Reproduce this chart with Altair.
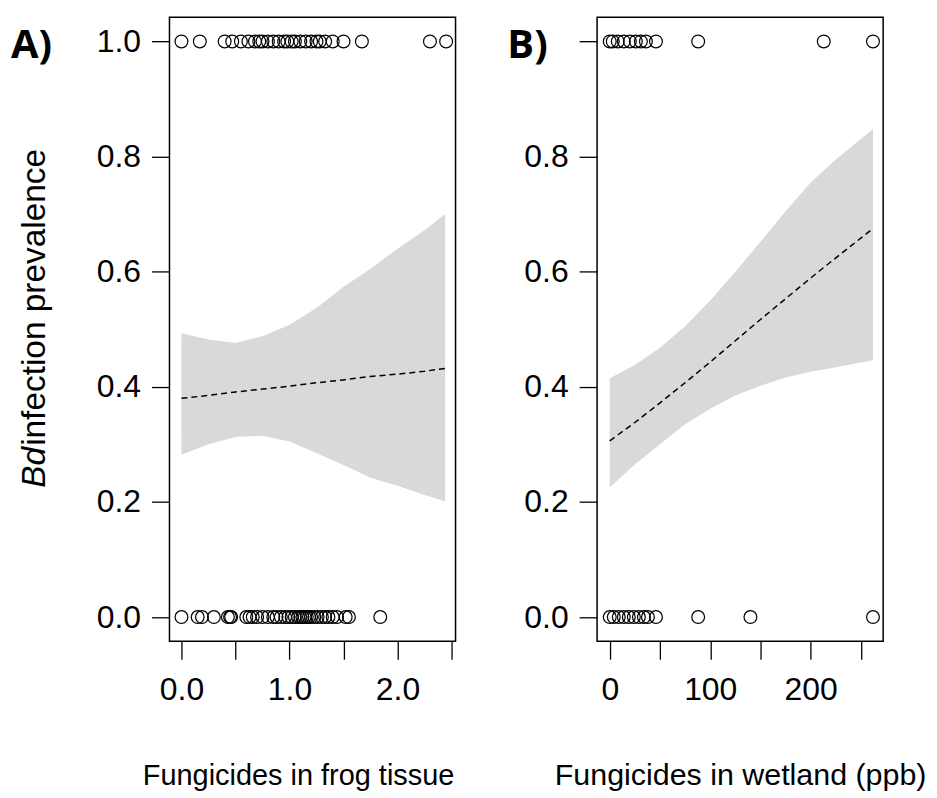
import altair as alt
import pandas as pd

# ---------------- data ----------------
# Panel A: fungicides in frog tissue, infected (1) / uninfected (0)
a_top = [0.0, 0.17, 0.40, 0.47, 0.55, 0.62, 0.68, 0.72, 0.75, 0.80, 0.85, 0.90,
         0.95, 0.98, 1.02, 1.05, 1.10, 1.15, 1.20, 1.25, 1.28, 1.33, 1.40, 1.50,
         1.67, 2.30, 2.45]
a_bottom = [0.0, 0.15, 0.19, 0.30, 0.43, 0.45, 0.46, 0.60, 0.63, 0.66, 0.70, 0.75,
            0.80, 0.85, 0.88, 0.92, 0.96, 0.99, 1.02, 1.05, 1.08, 1.10, 1.12, 1.14,
            1.16, 1.18, 1.20, 1.23, 1.26, 1.30, 1.33, 1.36, 1.40, 1.44, 1.52, 1.55,
            1.84]
a_fit_x = [0.0, 0.25, 0.5, 0.75, 1.0, 1.25, 1.5, 1.75, 2.0, 2.25, 2.44]
a_fit = [0.380, 0.385, 0.391, 0.396, 0.401, 0.407, 0.412, 0.418, 0.422, 0.427, 0.432]
a_upper = [0.493, 0.482, 0.476, 0.488, 0.508, 0.537, 0.574, 0.605, 0.640, 0.672, 0.700]
a_lower = [0.282, 0.300, 0.313, 0.315, 0.305, 0.285, 0.264, 0.242, 0.228, 0.212, 0.201]

# Panel B: fungicides in wetland (ppb)
b_top = [0, 3, 8, 14, 20, 26, 31, 36, 46, 88, 213, 262]
b_bottom = [0, 4, 9, 14, 19, 24, 29, 34, 38, 46, 88, 140, 262]
b_fit_x = [0, 25, 50, 75, 100, 125, 150, 175, 200, 225, 262]
b_fit = [0.306, 0.338, 0.372, 0.407, 0.443, 0.480, 0.517, 0.553, 0.589, 0.624, 0.675]
b_upper = [0.415, 0.438, 0.468, 0.505, 0.550, 0.600, 0.652, 0.705, 0.755, 0.795, 0.848]
b_lower = [0.225, 0.265, 0.300, 0.335, 0.362, 0.385, 0.402, 0.416, 0.426, 0.434, 0.446]

y_ticks = [0.0, 0.2, 0.4, 0.6, 0.8, 1.0]
a_ticks = [0.0, 0.5, 1.0, 1.5, 2.0, 2.5]
b_ticks = [0, 50, 100, 150, 200, 250]

FONT = "Liberation Sans"
W, H = 287, 626


def panel(top, bottom, fx, fit, up, lo, xdomain, xticks, label_expr, y_label_expr,
          xtitle, title_x, title_size, letter, letter_x, with_ytitle):
    pts = pd.DataFrame({"x": list(top) + list(bottom),
                        "y": [1.0] * len(top) + [0.0] * len(bottom)})
    fitdf = pd.DataFrame({"x": fx, "fit": fit, "hi": up, "lo": lo})

    xenc = alt.X("x:Q",
                 scale=alt.Scale(domain=xdomain, nice=False, zero=False),
                 axis=alt.Axis(values=xticks, labelExpr=label_expr, title=xtitle,
                               titleX=title_x, titleY=144, titleAlign="center",
                               titleBaseline="alphabetic", titleFont=FONT,
                               titleFontSize=title_size, titleFontWeight="normal",
                               titleColor="black", labelPadding=15))
    yscale = alt.Scale(domain=[-0.042, 1.042], nice=False, zero=False)
    yaxis = alt.Axis(values=y_ticks, labelExpr=y_label_expr, title=None,
                     labelPadding=11)

    band = alt.Chart(fitdf).mark_area(color="#d9d9d9", opacity=1).encode(
        x=xenc, y=alt.Y("lo:Q", scale=yscale, axis=yaxis), y2="hi:Q")
    line = alt.Chart(fitdf).mark_line(color="black", strokeDash=[6, 4],
                                      strokeWidth=1.5).encode(
        x=xenc, y=alt.Y("fit:Q", scale=yscale, axis=yaxis))
    points = alt.Chart(pts).mark_point(shape="circle", filled=False, color="black",
                                       size=165, strokeWidth=1.2, opacity=1).encode(
        x=xenc, y=alt.Y("y:Q", scale=yscale, axis=yaxis))
    lab = alt.Chart(pd.DataFrame({"t": [letter]})).mark_text(
        font="Open Sans", fontSize=40, fontWeight="bold", align="left",
        baseline="alphabetic", color="black").encode(
        text="t:N", x=alt.value(letter_x), y=alt.value(41))
    layers = [band, line, points, lab]
    if with_ytitle:
        bd = alt.Chart(pd.DataFrame({"t": ["Bd"]})).mark_text(
            font=FONT, fontSize=33.5, fontStyle="italic", angle=270, align="right",
            baseline="alphabetic", color="black").encode(
            text="t:N", x=alt.value(-125), y=alt.value(431))
        rest = alt.Chart(pd.DataFrame({"t": ["infection prevalence"]})).mark_text(
            font=FONT, fontSize=33.5, angle=270, align="left",
            baseline="alphabetic", color="black").encode(
            text="t:N", x=alt.value(-125), y=alt.value(430))
        layers += [bd, rest]
    return alt.layer(*layers).properties(width=W, height=H)


pa = panel(a_top, a_bottom, a_fit_x, a_fit, a_upper, a_lower,
           [-0.111, 2.537], a_ticks,
           "datum.value % 1 === 0 ? format(datum.value, '.1f') : ''",
           "format(datum.value, '.1f')",
           "Fungicides in frog tissue", 129, 29, "A)", -159, True)
pb = panel(b_top, b_bottom, b_fit_x, b_fit, b_upper, b_lower,
           [-12.6, 272.1], b_ticks,
           "datum.value % 100 === 0 ? format(datum.value, 'd') : ''",
           "datum.value > 0.9 ? '' : format(datum.value, '.1f')",
           "Fungicides in wetland (ppb)", 143.5, 30.5, "B)", -90, False)

chart = alt.hconcat(pa, pb, spacing=142, bounds="flush").properties(
    padding={"left": 2, "top": 7, "right": 2, "bottom": 2}
).configure_view(stroke="black", strokeWidth=1.5).configure_axis(
    domain=False, grid=False, ticks=True, tickColor="black", tickWidth=1.3,
    tickSize=18, labelFont=FONT, labelFontSize=32, labelColor="black",
    labelFlush=False, labelOverlap=False
).configure_axisY(labelBaseline="middle")

chart.save("out.html", embed_options={"renderer": "svg", "actions": False})
